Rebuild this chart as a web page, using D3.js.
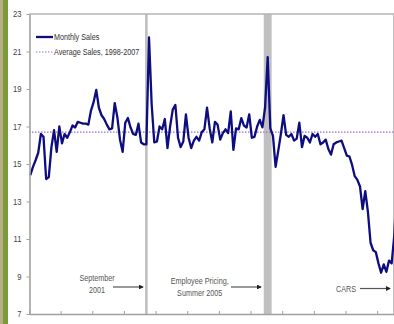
<!DOCTYPE html>
<html>
<head>
<meta charset="utf-8">
<script src="https://d3js.org/d3.v7.min.js"></script>
<style>
  body { margin: 0; background: #fff; }
  text { font-family: "Liberation Sans", Arial, sans-serif; }
</style>
</head>
<body>
<script>
// monthly light vehicle sales, millions (annual rate), Jan 1998 onwards
let startYear = 1998;
let monthlySales = [
  14.4, 14.85, 15.2, 15.6, 16.6, 16.45, 14.2, 14.3, 15.9, 16.8, 15.65, 17.0,   // 1998
  16.1, 16.6, 16.4, 16.7, 17.05, 16.95, 17.25, 17.2, 17.15, 17.15, 17.1, 17.85, // 1999
  18.3, 18.95, 18.0, 17.6, 17.4, 17.1, 16.85, 16.9, 18.25, 17.5, 16.3, 15.65,   // 2000
  17.2, 17.45, 16.95, 16.6, 16.55, 17.15, 16.15, 16.05, 16.05, 21.75, 18.2, 16.15, // 2001
  16.2, 17.0, 16.85, 17.4, 15.85, 17.0, 17.9, 18.15, 16.4, 15.9, 16.2, 17.65,   // 2002
  16.4, 15.85, 16.25, 16.45, 16.25, 16.7, 16.85, 18.0, 16.9, 16.15, 17.25, 17.1, // 2003
  16.3, 16.65, 16.85, 16.65, 17.8, 15.75, 16.9, 16.85, 17.45, 17.05, 16.95, 17.65, // 2004
  16.4, 16.45, 17.0, 17.35, 16.95, 18.0, 20.7, 16.9, 16.5, 14.85, 15.7, 16.6,   // 2005
  17.6, 16.55, 16.45, 16.6, 16.25, 16.35, 17.2, 15.9, 16.5, 16.4, 16.15, 16.6,  // 2006
  16.45, 16.6, 16.05, 16.15, 16.3, 15.8, 15.5, 16.05, 16.15, 16.2, 16.25, 15.85, // 2007
  15.45, 15.4, 14.95, 14.35, 14.15, 13.8, 12.6, 13.55, 12.45, 10.8, 10.4, 10.3, // 2008
  9.7, 9.2, 9.65, 9.25, 9.85, 9.7, 11.2, 14.1                                   // 2009
];
let averageSales = 16.7;
let yTicks = [7, 9, 11, 13, 15, 17, 19, 21, 23];
let legendLabels = ["Monthly Sales", "Average Sales, 1998-2007"];

// shaded events: first month index, month count, label lines
let eventStart = [44, 89, 138];
let eventLength = [1, 3, 2];
let eventLabels = [["September", "2001"], ["Employee Pricing,", "Summer 2005"], ["CARS"]];

let width = 394, height = 324;
let monthPx = 2.6375;
let squeeze = 0.82;   // narrow type look

let svg = d3.select("body").append("svg")
    .attr("width", width)
    .attr("height", height);

// slide decoration at the left
svg.append("rect").attr("x", 0).attr("y", 0).attr("width", 3).attr("height", height).attr("fill", "#b8ae86");
svg.append("rect").attr("x", 3).attr("y", 0).attr("width", 5).attr("height", height).attr("fill", "#7b9a3b");

let x = d3.scaleLinear()
    .domain([0, 144])
    .range([29, 29 + 144 * monthPx]);

let y = d3.scaleLinear()
    .domain([7, 23])
    .range([314, 14]);

function narrowText(g, tx, ty, size) {
  return g.append("text")
      .attr("transform", "translate(" + tx + "," + ty + ") scale(" + squeeze + ",1)")
      .style("font-size", size + "px");
}

// shaded bars
svg.append("g")
  .selectAll("rect")
  .data(eventStart)
  .join("rect")
    .attr("x", d => x(d))
    .attr("width", (d, i) => x(d + eventLength[i]) - x(d))
    .attr("y", y(23))
    .attr("height", y(7) - y(23))
    .attr("fill", "#c0c0c0");

// top frame line
svg.append("line")
    .attr("x1", x(0)).attr("x2", width)
    .attr("y1", y(23)).attr("y2", y(23))
    .attr("stroke", "#b4b4b4")
    .attr("stroke-width", 1.5);

// average line
svg.append("line")
    .attr("x1", x(0)).attr("x2", width)
    .attr("y1", y(averageSales)).attr("y2", y(averageSales))
    .attr("stroke", "#9b6fd0")
    .attr("stroke-width", 1.2)
    .attr("stroke-dasharray", "1.5,1.5");

// sales line
let line = d3.line()
    .x((d, i) => x(i + 0.5))
    .y(d => y(d));

svg.append("path")
    .datum(monthlySales)
    .attr("d", line)
    .attr("fill", "none")
    .attr("stroke", "#0d0d80")
    .attr("stroke-width", 2.3)
    .attr("stroke-linejoin", "round");

// axes
let yAxis = svg.append("g")
    .attr("transform", "translate(" + (x(0) + 0.5) + ",0)")
    .call(d3.axisLeft(y).tickValues(yTicks).tickSize(3).tickPadding(4).tickSizeOuter(0));

let xTicks = d3.range(0, 145, 12);
let xAxis = svg.append("g")
    .attr("transform", "translate(0," + y(7) + ")")
    .call(d3.axisBottom(x).tickValues(xTicks).tickSize(-3).tickFormat("").tickSizeOuter(0));

[yAxis, xAxis].forEach(g => {
  g.select(".domain").attr("stroke", "#a0a0a0").attr("stroke-width", 1.6);
  g.selectAll(".tick line").attr("stroke", "#a0a0a0");
});
yAxis.selectAll("text")
    .attr("x", -8 / squeeze)
    .attr("transform", "scale(" + squeeze + ",1)")
    .attr("fill", "#444")
    .style("font-family", "'Liberation Sans', Arial, sans-serif")
    .style("font-size", "9.3px");

// legend
let legend = svg.append("g");
legend.append("line")
    .attr("x1", 36).attr("x2", 53).attr("y1", 37).attr("y2", 37)
    .attr("stroke", "#0d0d80").attr("stroke-width", 2.3);
legend.append("line")
    .attr("x1", 36).attr("x2", 53).attr("y1", 52).attr("y2", 52)
    .attr("stroke", "#9b6fd0").attr("stroke-width", 1.2).attr("stroke-dasharray", "1.5,1.5");
legendLabels.forEach((s, i) => {
  narrowText(legend, 54, 37 + i * 15, 8.8)
      .attr("dy", "0.35em")
      .attr("fill", "#333")
      .text(s);
});

// event notes with arrows
let noteX = [97, 199.7, 346];
let noteY = [281, 284, 291.5];
let arrowFrom = [113, 231, 360];
let arrowTo = [143, 261, 390];
let arrowY = [287, 287, 288.5];

svg.append("defs").append("marker")
    .attr("id", "head")
    .attr("viewBox", "0 0 6 6")
    .attr("refX", 5).attr("refY", 3)
    .attr("markerWidth", 4).attr("markerHeight", 4)
    .attr("orient", "auto")
  .append("path")
    .attr("d", "M0,0L6,3L0,6Z")
    .attr("fill", "#222");

eventLabels.forEach((lines, k) => {
  lines.forEach((s, j) => {
    narrowText(svg, noteX[k], noteY[k] + j * 11.5, 8.8)
        .attr("text-anchor", "middle")
        .attr("fill", "#555")
        .text(s);
  });
  svg.append("line")
      .attr("x1", arrowFrom[k]).attr("x2", arrowTo[k])
      .attr("y1", arrowY[k]).attr("y2", arrowY[k])
      .attr("stroke", "#555")
      .attr("stroke-width", 1.2)
      .attr("marker-end", "url(#head)");
});
</script>
</body>
</html>
